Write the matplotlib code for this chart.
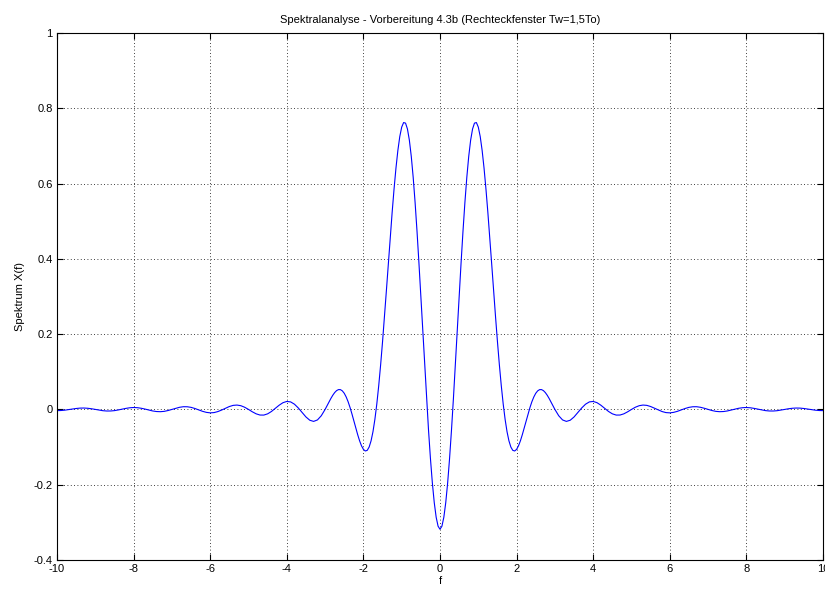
import matplotlib
matplotlib.use("Agg")
import matplotlib.pyplot as plt
import numpy as np

# Spectrum values for f >= 0 (curve is symmetric about f = 0)
f_pos = [0.00, 0.05, 0.10, 0.15, 0.20, 0.25, 0.30, 0.35, 0.40, 0.45,
         0.50, 0.55, 0.60, 0.65, 0.70, 0.75, 0.80, 0.85, 0.90, 0.95,
         1.00, 1.05, 1.10, 1.15, 1.20, 1.25, 1.30, 1.35, 1.40, 1.45,
         1.50, 1.55, 1.60, 1.65, 1.70, 1.75, 1.80, 1.85, 1.90, 1.95,
         2.00, 2.05, 2.10, 2.15, 2.20, 2.25, 2.30, 2.35, 2.40, 2.45,
         2.50, 2.55, 2.60, 2.65, 2.70, 2.75, 2.80, 2.85, 2.90, 2.95,
         3.0, 3.1, 3.2, 3.3, 3.4, 3.5, 3.6, 3.7, 3.8, 3.9,
         4.0, 4.1, 4.2, 4.3, 4.4, 4.5, 4.6, 4.7, 4.8, 4.9,
         5.0, 5.1, 5.2, 5.3, 5.4, 5.5, 5.6, 5.7, 5.8, 5.9,
         6.0, 6.1, 6.2, 6.3, 6.4, 6.5, 6.6, 6.7, 6.8, 6.9,
         7.0, 7.1, 7.2, 7.3, 7.4, 7.5, 7.6, 7.7, 7.8, 7.9,
         8.0, 8.1, 8.2, 8.3, 8.4, 8.5, 8.6, 8.7, 8.8, 8.9,
         9.0, 9.1, 9.2, 9.3, 9.4, 9.5, 9.6, 9.7, 9.8, 9.9, 10.0]
x_pos = [-0.3183, -0.3103, -0.2865, -0.2476, -0.1949, -0.1299, -0.0547, 0.0285, 0.1171, 0.2086,
         0.3001, 0.3891, 0.4730, 0.5495, 0.6165, 0.6722, 0.7153, 0.7450, 0.7606, 0.7621,
         0.7500, 0.7250, 0.6881, 0.6410, 0.5853, 0.5228, 0.4556, 0.3858, 0.3153, 0.2462,
         0.1801, 0.1186, 0.0631, 0.0145, -0.0263, -0.0591, -0.0835, -0.0999, -0.1087, -0.1104,
         -0.1061, -0.0966, -0.0832, -0.0668, -0.0487, -0.0300, -0.0116, 0.0055, 0.0207, 0.0332,
         0.0429, 0.0493, 0.0526, 0.0527, 0.0500, 0.0448, 0.0376, 0.0290, 0.0195, 0.0096,
         0.0000, -0.0168, -0.0279, -0.0318, -0.0287, -0.0200, -0.0082, 0.0039, 0.0139, 0.0200,
         0.0212, 0.0179, 0.0112, 0.0028, -0.0054, -0.0117, -0.0150, -0.0149, -0.0117, -0.0063,
         0.0000, 0.0058, 0.0099, 0.0116, 0.0108, 0.0077, 0.0032, -0.0016, -0.0057, -0.0084,
         -0.0091, -0.0078, -0.0050, -0.0013, 0.0025, 0.0055, 0.0071, 0.0072, 0.0057, 0.0031,
         0.0000, -0.0029, -0.0051, -0.0060, -0.0056, -0.0041, -0.0017, 0.0009, 0.0031, 0.0046,
         0.0051, 0.0044, 0.0028, 0.0007, -0.0014, -0.0032, -0.0041, -0.0042, -0.0034, -0.0018,
         0.0000, 0.0018, 0.0031, 0.0037, 0.0035, 0.0025, 0.0011, -0.0005, -0.0020, -0.0029, -0.0032]

x_ticks = [-10, -8, -6, -4, -2, 0, 2, 4, 6, 8, 10]
y_ticks = [-0.4, -0.2, 0, 0.2, 0.4, 0.6, 0.8, 1]
y_tick_labels = ["-0.4", "-0.2", "0", "0.2", "0.4", "0.6", "0.8", "1"]

title = "Spektralanalyse - Vorbereitung 4.3b (Rechteckfenster Tw=1,5To)"

f_all = [-v for v in f_pos[:0:-1]] + f_pos
x_all = x_pos[:0:-1] + x_pos

plt.rcParams['font.family'] = ['Liberation Sans', 'DejaVu Sans']

fig = plt.figure(figsize=(8.25, 5.9), dpi=100)
fig.patch.set_facecolor('white')
ax = fig.add_axes([57/825, 30/590, (823-57)/825, (560-33)/590])

ax.plot(f_all, x_all, color=(0, 0, 1), linewidth=0.8)

ax.set_xlim(-10, 10)
ax.set_ylim(-0.4, 1)
ax.set_xticks(x_ticks)
ax.set_xticklabels([str(t) for t in x_ticks])
ax.set_yticks(y_ticks)
ax.set_yticklabels(y_tick_labels)
ax.tick_params(direction='in', length=4, width=0.8, labelsize=8, pad=3,
               top=True, right=True)
ax.grid(True, color='black', linestyle=(0, (1, 3)), linewidth=0.6)
for s in ax.spines.values():
    s.set_linewidth(0.8)

ax.set_title(title, fontsize=8, pad=7)
ax.set_xlabel("f", fontsize=8, labelpad=1)
ax.set_ylabel("Spektrum X(f)", fontsize=8, labelpad=6)

fig.savefig("out.png", dpi=100, facecolor='white')
